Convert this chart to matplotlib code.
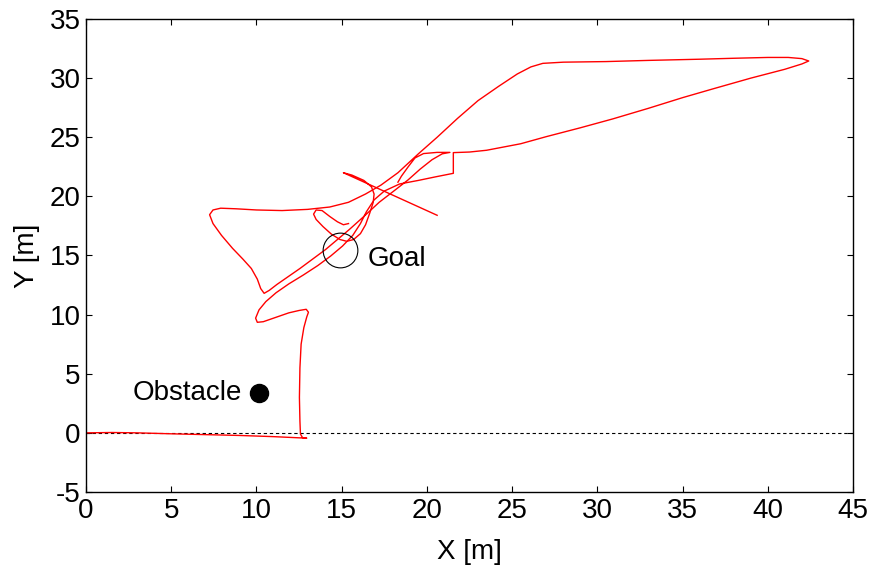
import numpy as np
import matplotlib
matplotlib.use("Agg")
from matplotlib import pyplot as plt

plt.rcParams['font.family'] = ['Liberation Sans', 'DejaVu Sans']
plt.rcParams['axes.unicode_minus'] = False

# robot path, main run (start -> low loop -> big loop -> funnel -> box)
run1_x = [0, 1.5, 3.0, 5.0, 7.0, 9.0, 11.0, 12.95,
	12.7, 12.58, 12.55, 12.52, 12.55, 12.62, 12.78, 12.95, 13.05, 12.92, 12.5, 11.9, 11.1, 10.4, 10.05, 9.95,
	10.15, 10.55, 11.15, 11.9, 12.75, 13.6, 14.35, 15.05, 15.65, 16.1, 16.45, 16.9, 17.5, 18.4,
	19.5, 20.5, 21.55, 21.55, 21.55,
	22.5, 23.5, 25.5, 27.0, 29.0, 30.9, 33.0, 35.0, 36.8, 39.0, 41.0, 42.0, 42.4,
	42.0, 41.2, 40.0, 38.0, 36.0, 33.0, 30.5, 28.0, 26.8, 26.1, 25.3, 24.2, 23.0, 21.8, 20.6, 19.5, 18.3,
	17.3, 16.4, 15.4, 14.3, 13.0, 11.5, 10.0, 8.8, 7.9, 7.45, 7.25, 7.45, 7.95, 8.6, 9.2, 9.7, 10.05, 10.25, 10.45,
	10.75, 11.2, 11.8, 12.55, 13.3, 14.05, 14.75, 15.45, 16.3, 17.2, 18.1, 18.9, 19.6, 20.3, 20.9, 21.35,
	20.6, 19.8, 19.3, 18.9, 18.5, 18.3]
run1_y = [0, 0.03, 0.0, -0.08, -0.15, -0.22, -0.32, -0.45,
	-0.4, -0.1, 1.0, 3.0, 5.5, 7.5, 8.9, 9.8, 10.2, 10.45, 10.35, 10.15, 9.75, 9.4, 9.35, 9.7,
	10.4, 11.1, 11.85, 12.6, 13.35, 14.15, 14.95, 15.8, 16.7, 17.7, 18.7, 19.7, 20.45, 21.05,
	21.35, 21.65, 21.95, 22.8, 23.7,
	23.75, 23.9, 24.45, 25.05, 25.8, 26.55, 27.45, 28.35, 29.1, 30.0, 30.75, 31.2, 31.45,
	31.65, 31.75, 31.75, 31.68, 31.6, 31.5, 31.4, 31.35, 31.25, 30.95, 30.35, 29.3, 28.1, 26.6, 25.0, 23.6, 22.0,
	20.95, 20.2, 19.5, 19.1, 18.9, 18.8, 18.85, 18.95, 19.0, 18.85, 18.45, 17.7, 16.7, 15.6, 14.7, 13.9, 13.0, 12.2, 11.8,
	12.05, 12.55, 13.15, 13.9, 14.7, 15.5, 16.35, 17.2, 18.3, 19.5, 20.5, 21.4, 22.3, 23.1, 23.6, 23.72,
	23.72, 23.62, 23.25, 22.5, 21.7, 21.2]

# final run: cross line, hook back and the small loop next to the goal
run2_x = [20.6, 15.1, 15.6, 16.3, 16.75, 16.9, 16.85, 16.65, 16.4, 16.1, 15.7, 15.3, 14.9, 14.4, 13.9, 13.5,
	13.35, 13.5, 13.85, 14.3, 14.75, 15.1, 15.4]
run2_y = [18.4, 22.0, 21.8, 21.35, 20.8, 20.2, 19.5, 18.6, 17.6, 16.85, 16.35, 16.2, 16.35, 16.8, 17.45, 18.05,
	18.5, 18.85, 18.8, 18.3, 17.85, 17.6, 17.7]

goal_xy = (14.9, 15.5)
obstacle_xy = (10.15, 3.38)

fig = plt.figure(figsize=(8.75, 5.71), dpi=100)
ax = fig.add_axes([0.0983, 0.1384, 0.8766, 0.8283])

ax.plot([0, 45], [0, 0], 'k--', lw=0.8, dashes=(3, 2.5))
ax.plot(run1_x, run1_y, color='red', lw=1.0)
ax.plot(run2_x, run2_y, color='red', lw=1.0)

ax.plot(*goal_xy, 'o', ms=25, mfc='none', mec='black', mew=0.8)
ax.text(goal_xy[0] + 1.6, goal_xy[1] - 0.8, 'Goal', fontsize=20, va='center', ha='left')
ax.plot(*obstacle_xy, 'o', ms=13, color='black')
ax.text(obstacle_xy[0] - 1.0, obstacle_xy[1], 'Obstacle', fontsize=20, va='center', ha='right')

ax.set_xlim(0, 45)
ax.set_ylim(-5, 35)
ax.set_xticks(np.arange(0, 46, 5))
ax.set_yticks(np.arange(-5, 36, 5))
ax.tick_params(direction='in', top=True, right=True, length=4, labelsize=20, pad=4)
for s in ax.spines.values():
	s.set_linewidth(1.0)
ax.set_xlabel('X [m]', fontsize=20, labelpad=11)
ax.set_ylabel('Y [m]', fontsize=20, labelpad=7)

fig.savefig('out.png', dpi=100)
